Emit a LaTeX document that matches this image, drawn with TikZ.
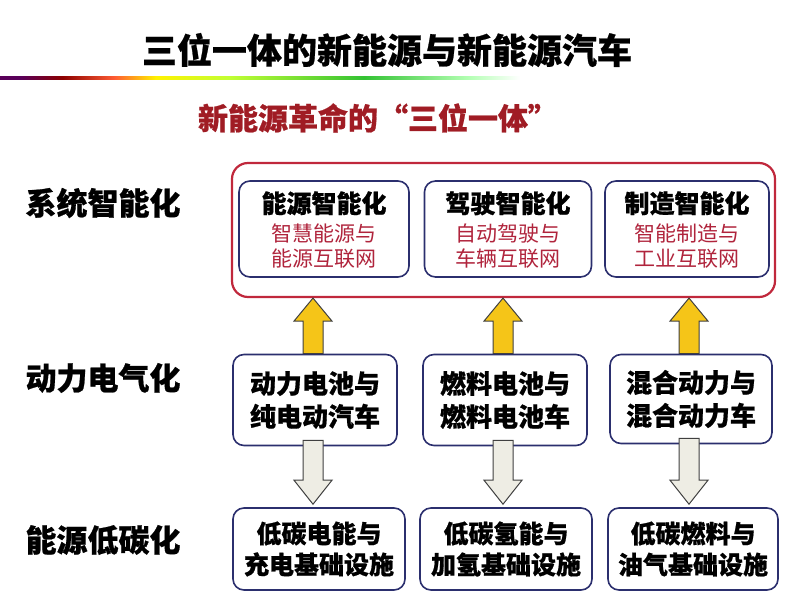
\documentclass[tikz,border=0pt]{standalone}
\usepackage{fontspec}
\setmainfont{Noto Sans CJK SC}[BoldFeatures={FakeBold=0.7}]
\usetikzlibrary{calc}
\definecolor{boxblue}{HTML}{2B2F6E}
\definecolor{framered}{HTML}{C0283C}
\definecolor{subred}{HTML}{B0243C}
\definecolor{headred}{HTML}{A01C24}
\definecolor{arrowyellow}{HTML}{F5C518}
\definecolor{arrowgrey}{HTML}{EEEDE4}
\pgfdeclarehorizontalshading{rainbowline}{100bp}{color(0bp)=(violet!70!black);
  color(25bp)=(violet!70!black); color(27bp)=(violet!70!black); color(31bp)=(red!55!black);
  color(36bp)=(red!60!orange!80); color(40bp)=(yellow!90!orange); color(47bp)=(yellow!70!green!80);
  color(60bp)=(green!70!black!80); color(70bp)=(green!30); color(75bp)=(white); color(100bp)=(white)}
\tikzset{
        cell/.style={draw=boxblue,line width=1.6pt,rounded corners=11pt,fill=white,align=center,inner sep=0pt},
        upblock/.style={draw=black!75,line width=1pt,fill=arrowyellow,line join=miter},
        downblock/.style={draw=black!75,line width=1pt,fill=arrowgrey,line join=miter}
    }
\newcommand{\headtxt}{\bfseries\fontsize{25}{25}\selectfont}
\newcommand{\redtxt}{\color{subred}}

\begin{document}
\begin{tikzpicture}[x=1pt,y=-1pt]
\useasboundingbox (0,0) rectangle (800,599);

\draw (387,50) node(TITLE){\bfseries\fontsize{35}{40}\selectfont 三位一体的新能源与新能源汽车};
\shade[shading=rainbowline] (0,76.5) rectangle (520,79.5);
\draw (378,118) node(SUB){\color{headred}\bfseries\fontsize{30}{32}\selectfont 新能源革命的“三位一体”};

\draw (103,203) node(ROWA){\bfseries\fontsize{31}{36}\selectfont 系统智能化};
\draw (103,378) node(ROWB){\bfseries\fontsize{31}{36}\selectfont 动力电气化};
\draw (103,540) node(ROWC){\bfseries\fontsize{31}{36}\selectfont 能源低碳化};

% top row
\draw (503.5,230) node(TOP)[draw=framered,line width=2.2pt,rounded corners=16pt,minimum width=543pt,minimum height=134pt]{};
\tikzset{every node/.append style={font=\fontsize{21}{25}\selectfont}}
\draw (324,229) node(TA)[cell,minimum width=170pt,minimum height=96pt,text depth=-3pt]{\headtxt 能源智能化\\[4pt]\redtxt 智慧能源与\\\redtxt 能源互联网};
\draw (508,229) node(TB)[cell,minimum width=167pt,minimum height=96pt,text depth=-3pt]{\headtxt 驾驶智能化\\[4pt]\redtxt 自动驾驶与\\\redtxt 车辆互联网};
\draw (687,229) node(TC)[cell,minimum width=164pt,minimum height=96pt,text depth=-3pt]{\headtxt 制造智能化\\[4pt]\redtxt 智能制造与\\\redtxt 工业互联网};

% middle row
\tikzset{every node/.append style={font=\bfseries\fontsize{26}{33}\selectfont}}
\draw (315,400) node(MA)[cell,minimum width=164pt,minimum height=91pt]{动力电池与\\纯电动汽车};
\draw (505,400) node(MB)[cell,minimum width=164pt,minimum height=91pt]{燃料电池与\\燃料电池车};
\draw (691,399) node(MC)[cell,minimum width=162pt,minimum height=89pt]{混合动力与\\混合动力车};

% bottom row
\tikzset{every node/.append style={font=\bfseries\fontsize{25}{31}\selectfont}}
\draw (319,549) node(BA)[cell,minimum width=172pt,minimum height=82pt]{低碳电能与\\充电基础设施};
\draw (506,549) node(BB)[cell,minimum width=172pt,minimum height=82pt]{低碳氢能与\\加氢基础设施};
\draw (693,549) node(BC)[cell,minimum width=170pt,minimum height=82pt]{低碳燃料与\\油气基础设施};

% up arrows
\foreach \m in {MA,MB,MC}
  \draw[upblock] let \p1=($(\m.north)+(-2,0)$), \p2=(TOP.south) in
    (\x1-10pt,\y1) -- (\x1-10pt,\y2-23pt) -- (\x1-19pt,\y2-23pt) -- (\x1,\y2)
    -- (\x1+19pt,\y2-23pt) -- (\x1+10pt,\y2-23pt) -- (\x1+10pt,\y1) -- cycle;

% down arrows
\foreach \m/\b in {MA/BA,MB/BB,MC/BC}
  \draw[downblock] let \p1=($(\m.south)+(-2,-6)$), \p2=($(\b.north)+(0,-3)$) in
    (\x1-10pt,\y1) -- (\x1-10pt,\y2+24pt) -- (\x1-19pt,\y2+24pt) -- (\x1,\y2)
    -- (\x1+19pt,\y2+24pt) -- (\x1+10pt,\y2+24pt) -- (\x1+10pt,\y1) -- cycle;

\end{tikzpicture}
\end{document}
